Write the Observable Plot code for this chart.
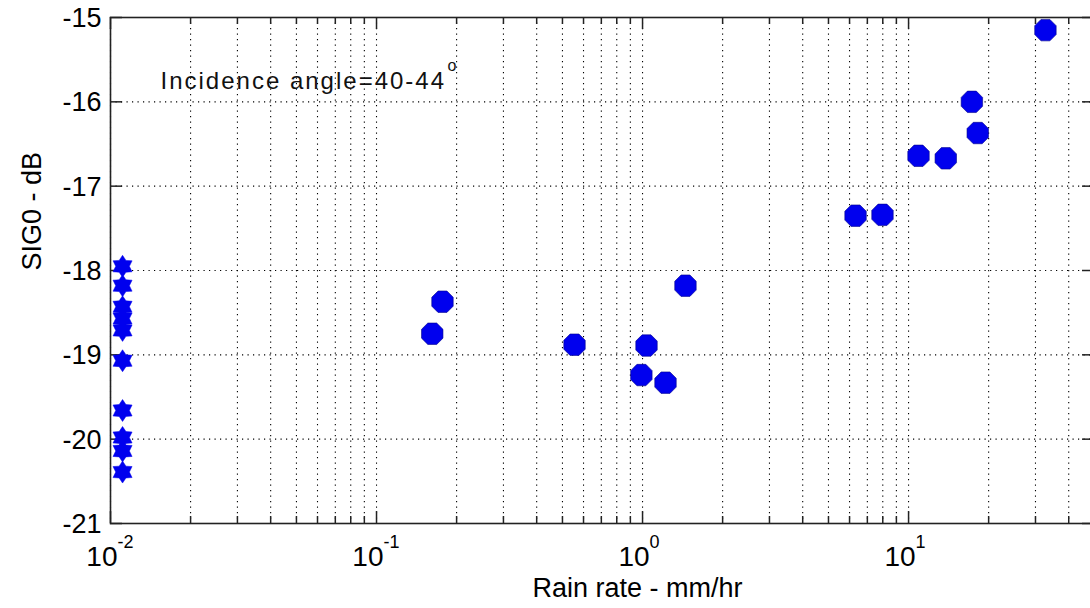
<!DOCTYPE html>
<html>
<head>
<meta charset="utf-8">
<script src="https://cdn.jsdelivr.net/npm/d3@7"></script>
<script src="https://cdn.jsdelivr.net/npm/@observablehq/plot@0.6"></script>
<style>
  html, body { margin: 0; padding: 0; background: #fff; overflow: hidden; }
  #chart { width: 1100px; }
  #chart svg { display: block; max-width: none !important; width: 1100px !important; height: 608px !important; }
</style>
</head>
<body>
<div id="chart"></div>
<script>
// ---- data ----
const rainRate = [0.162, 0.177, 0.555, 0.99, 1.035, 1.22, 1.45, 6.32, 7.98, 10.9, 13.8, 17.3, 18.2, 32.7];
const sig0     = [-18.75, -18.37, -18.88, -19.24, -18.89, -19.33, -18.18, -17.35, -17.34, -16.64, -16.67, -16.00, -16.37, -15.15];
const noRainRate = [0.0111, 0.0111, 0.0111, 0.0111, 0.0111, 0.0111, 0.0111, 0.0111, 0.0111, 0.0111];
const noRainSig0 = [-17.95, -18.18, -18.43, -18.57, -18.71, -19.07, -19.66, -19.98, -20.14, -20.39];
const xMajorTicks = [0.01, 0.1, 1, 10];
const xTickExponents = ["-2", "-1", "0", "1"];
const xMinorMultipliers = [2, 3, 4, 5, 6, 7, 8, 9];
const xDomain = [0.01, 50];
const yTicks = [-21, -20, -19, -18, -17, -16, -15];
const annotationText = "Incidence angle=40-44";
const annotationSup = "o";
const xLabel = "Rain rate - mm/hr";
const yLabel = "SIG0 - dB";

// ---- derived ----
const circles = rainRate.map((r, i) => ({x: r, y: sig0[i]}));
const stars = noRainRate.map((r, i) => ({x: r, y: noRainSig0[i]}));
const xMinorTicks = xMajorTicks.flatMap(d => xMinorMultipliers.map(m => +(d * m).toPrecision(3)))
  .filter(v => v <= xDomain[1]);
const xTickData = xMajorTicks.map((v, i) => ({v, e: xTickExponents[i]}));

// custom symbols (MATLAB-like filled octagon "circle" and hexagram)
const octagon = {
  draw(ctx, size) {
    const R = Math.sqrt(size / Math.PI);
    for (let k = 0; k < 8; ++k) {
      const a = Math.PI / 8 + k * Math.PI / 4;
      const px = R * Math.cos(a), py = R * Math.sin(a);
      k ? ctx.lineTo(px, py) : ctx.moveTo(px, py);
    }
    ctx.closePath();
  }
};
const hexagram = {
  draw(ctx, size) {
    const R = Math.sqrt(size / Math.PI);
    const r = R * 0.62;
    for (let k = 0; k < 12; ++k) {
      const a = -Math.PI / 2 + k * Math.PI / 6;
      const rad = k % 2 ? r : R;
      const px = rad * Math.cos(a), py = rad * Math.sin(a);
      k ? ctx.lineTo(px, py) : ctx.moveTo(px, py);
    }
    ctx.closePath();
  }
};

const W = 1100, H = 608;
const mL = 110, mR = 6, mT = 17, mB = 85;
const plotW = W - mL - mR, plotH = H - mT - mB;
const font = "'Liberation Sans', Arial, Helvetica, sans-serif";
const blue = "#0000ee";
const dots = "1.2,4.3";

const chart = Plot.plot({
  width: W,
  height: H,
  marginLeft: mL,
  marginRight: mR,
  marginTop: mT,
  marginBottom: mB,
  style: {fontFamily: font, background: "#fff", overflow: "visible"},
  x: {type: "log", domain: xDomain, axis: null},
  y: {domain: [yTicks[0], yTicks[yTicks.length - 1]], axis: null},
  marks: [
    // dotted grid
    Plot.ruleX(xMinorTicks, {stroke: "#000", strokeWidth: 1.1, strokeDasharray: dots}),
    Plot.ruleX(xMajorTicks, {stroke: "#000", strokeWidth: 1.1, strokeDasharray: dots}),
    Plot.ruleY(yTicks, {stroke: "#000", strokeWidth: 1.1, strokeDasharray: dots}),
    // inward ticks bottom/top
    Plot.ruleX(xMajorTicks, {stroke: "#222", strokeWidth: 1.5, insetTop: plotH - 12}),
    Plot.ruleX(xMinorTicks, {stroke: "#222", strokeWidth: 1.5, insetTop: plotH - 7}),
    Plot.ruleX(xMajorTicks, {stroke: "#222", strokeWidth: 1.5, insetBottom: plotH - 12}),
    Plot.ruleX(xMinorTicks, {stroke: "#222", strokeWidth: 1.5, insetBottom: plotH - 7}),
    // inward ticks left/right
    Plot.ruleY(yTicks, {stroke: "#222", strokeWidth: 1.5, insetRight: plotW - 12}),
    Plot.ruleY(yTicks, {stroke: "#222", strokeWidth: 1.5, insetLeft: plotW - 12}),
    // frame
    Plot.frame({stroke: "#222", strokeWidth: 1.6}),
    // data
    Plot.dot(stars, {x: "x", y: "y", symbol: hexagram, r: 11, fill: blue, stroke: blue, strokeWidth: 0.5}),
    Plot.dot(circles, {x: "x", y: "y", symbol: octagon, r: 11.6, fill: blue, stroke: "#00008a", strokeWidth: 0.6}),
    // y tick labels
    Plot.text(yTicks, {x: xDomain[0], y: d => d, text: d => String(d), textAnchor: "end", dx: -9, dy: 1, fontSize: 27, fill: "#000"}),
    // x tick labels: "10" + superscript exponent
    Plot.text(xTickData, {x: "v", y: yTicks[0], text: () => "10", textAnchor: "end", dx: 7, dy: 34, fontSize: 28, fill: "#000"}),
    Plot.text(xTickData, {x: "v", y: yTicks[0], text: "e", textAnchor: "start", dx: 7, dy: 19, fontSize: 18, fill: "#000"}),
    // annotation
    Plot.text([annotationText], {frameAnchor: "top-left", text: d => d, textAnchor: "start", lineAnchor: "middle", dx: 50, dy: 64, fontSize: 24, fill: "#111"}),
    Plot.text([annotationSup], {frameAnchor: "top-left", text: d => d, textAnchor: "start", lineAnchor: "middle", dx: 337, dy: 48, fontSize: 16, fill: "#111"}),
    // axis labels
    Plot.text([xLabel], {frameAnchor: "bottom", text: d => d, lineAnchor: "middle", dx: 35, dy: 65, fontSize: 27, fill: "#000"}),
    Plot.text([yLabel], {frameAnchor: "left", text: d => d, rotate: -90, lineAnchor: "middle", dx: -78, dy: 0, fontSize: 27, fill: "#000"})
  ]
});
// widen the annotation's letter spacing like the reference
chart.querySelectorAll("text").forEach(t => {
  if (t.textContent === annotationText) t.setAttribute("letter-spacing", "2");
});
document.getElementById("chart").appendChild(chart);
</script>
</body>
</html>
